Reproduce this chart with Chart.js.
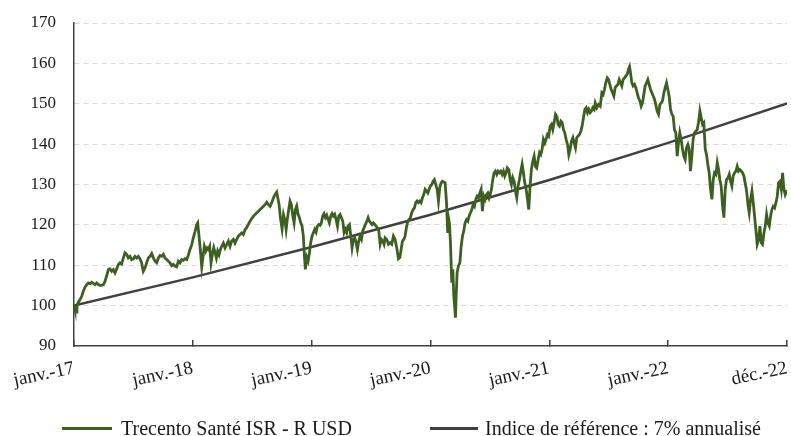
<!DOCTYPE html>
<html>
<head>
<meta charset="utf-8">
<script src="https://cdn.jsdelivr.net/npm/chart.js@4/dist/chart.umd.min.js"></script>
<style>
  html, body { margin: 0; padding: 0; background: #ffffff; }
  #wrap { width: 791px; height: 436px; position: relative; overflow: hidden; }
  #c { position: absolute; left: 0; top: 0; }
  .lg-line { position: absolute; height: 3px; }
  .lg-text { position: absolute; font-family: 'Liberation Serif', 'Times New Roman', serif; font-size: 20px; line-height: 22px; color: #1a1a1a; white-space: nowrap; }
</style>
</head>
<body>
<div id="wrap">
  <canvas id="c" width="791" height="436"></canvas>
  <div id="legend"></div>
</div>
<script>
// X positions are years elapsed since janv. 2017
const xTickValues = [0, 1, 2, 3, 4, 5, 6];
const xTickLabels = ['janv.-17', 'janv.-18', 'janv.-19', 'janv.-20', 'janv.-21', 'janv.-22', 'déc.-22'];
const yTickMin = 90;
const yTickMax = 170;
const yTickStep = 10;

const seriesNames = ['Trecento Santé ISR - R USD', 'Indice de référence : 7% annualisé'];

// Reference index: 7% annualised, yearly readings
const refYears = [0, 1, 2, 3, 4, 5, 6];
const refValues = [100, 107, 114.5, 122.5, 131.1, 140.3, 150.1];

// Fund: [years since janv.-17, value]
const fundPoints = [
[0.000,100.0],[0.008,99.0],[0.017,98.4],[0.025,100.0],[0.036,100.8],[0.051,101.5],[0.065,102.3],[0.079,103.6],[0.093,104.6],[0.107,105.2],
[0.121,105.6],[0.135,105.4],[0.149,105.8],[0.163,105.5],[0.177,105.2],[0.191,105.6],[0.205,105.2],[0.219,105.0],[0.233,105.0],[0.247,105.2],
[0.261,106.0],[0.275,107.4],[0.289,108.9],[0.303,109.1],[0.317,108.5],[0.331,108.9],[0.345,108.1],[0.359,109.1],[0.373,110.2],[0.387,110.6],
[0.401,110.3],[0.415,111.8],[0.429,113.1],[0.443,112.7],[0.457,111.8],[0.471,112.2],[0.485,111.4],[0.499,111.6],[0.513,112.2],[0.527,111.8],
[0.541,112.2],[0.555,111.6],[0.569,110.6],[0.583,108.5],[0.597,109.3],[0.611,110.6],[0.625,111.8],[0.640,112.2],[0.654,112.9],[0.668,111.8],
[0.682,111.0],[0.696,110.6],[0.710,111.8],[0.724,112.4],[0.738,112.2],[0.752,112.7],[0.766,111.8],[0.780,111.4],[0.794,111.0],[0.808,110.6],
[0.822,109.9],[0.836,110.2],[0.850,109.8],[0.864,109.6],[0.878,111.0],[0.892,110.6],[0.906,111.4],[0.920,111.2],[0.934,111.6],[0.949,111.4],
[0.963,112.6],[0.976,113.9],[0.991,115.1],[1.004,116.8],[1.019,118.4],[1.033,120.1],[1.041,120.5],[1.052,117.2],[1.063,113.9],[1.075,109.6],
[1.086,112.2],[1.097,114.7],[1.109,113.5],[1.120,114.3],[1.131,113.9],[1.142,114.7],[1.153,110.6],[1.164,112.6],[1.176,114.3],[1.187,113.1],
[1.198,111.8],[1.209,113.5],[1.221,112.6],[1.232,113.9],[1.243,114.7],[1.257,115.5],[1.271,114.3],[1.285,115.1],[1.299,116.0],[1.313,114.7],
[1.327,116.0],[1.341,116.4],[1.355,115.5],[1.369,116.4],[1.383,117.2],[1.397,117.6],[1.411,118.0],[1.425,117.6],[1.439,118.8],[1.453,119.3],
[1.467,120.1],[1.481,120.9],[1.495,121.5],[1.509,122.1],[1.524,122.6],[1.538,123.0],[1.552,123.4],[1.566,123.8],[1.580,124.2],[1.594,124.6],
[1.608,125.0],[1.622,125.6],[1.636,125.0],[1.650,124.6],[1.664,125.5],[1.678,126.7],[1.692,127.5],[1.706,128.1],[1.715,126.7],[1.726,125.0],
[1.738,121.5],[1.751,119.0],[1.763,122.5],[1.776,121.0],[1.785,118.9],[1.795,121.4],[1.807,123.8],[1.818,125.9],[1.829,125.1],[1.841,122.2],
[1.852,120.5],[1.863,123.8],[1.874,124.7],[1.886,122.6],[1.897,121.8],[1.908,120.5],[1.919,119.7],[1.930,117.2],[1.939,112.3],[1.947,109.0],
[1.959,111.9],[1.970,111.0],[1.981,113.1],[1.992,115.6],[2.003,117.2],[2.015,118.1],[2.026,118.9],[2.037,118.2],[2.048,119.7],[2.060,120.1],
[2.071,119.9],[2.082,120.5],[2.093,122.2],[2.104,122.8],[2.116,121.8],[2.127,122.4],[2.138,121.4],[2.149,120.5],[2.161,122.2],[2.172,122.8],
[2.183,122.2],[2.194,122.6],[2.205,121.4],[2.217,119.7],[2.228,122.2],[2.239,122.6],[2.250,121.8],[2.262,120.9],[2.273,118.1],[2.284,118.9],
[2.295,118.1],[2.306,119.7],[2.318,120.1],[2.329,117.2],[2.340,114.3],[2.351,116.4],[2.363,116.8],[2.374,115.6],[2.385,113.9],[2.396,116.0],
[2.407,117.2],[2.419,116.4],[2.430,118.5],[2.441,119.3],[2.452,120.1],[2.464,120.9],[2.475,121.8],[2.486,120.9],[2.497,120.5],[2.508,120.1],
[2.519,120.5],[2.531,120.1],[2.542,119.7],[2.553,119.3],[2.565,118.5],[2.576,115.2],[2.587,116.4],[2.598,116.0],[2.609,115.2],[2.618,116.8],
[2.632,116.4],[2.646,115.2],[2.660,115.6],[2.674,115.2],[2.688,117.2],[2.702,116.4],[2.716,114.3],[2.730,111.6],[2.742,111.9],[2.753,113.9],
[2.764,116.0],[2.775,116.4],[2.786,117.2],[2.797,119.3],[2.809,120.9],[2.820,121.3],[2.831,121.8],[2.842,123.0],[2.854,123.8],[2.865,124.2],
[2.876,125.5],[2.887,125.9],[2.898,125.5],[2.910,125.9],[2.921,125.5],[2.932,126.7],[2.943,127.5],[2.955,128.8],[2.966,128.4],[2.977,127.9],
[2.988,128.8],[2.999,129.6],[3.011,130.0],[3.022,130.8],[3.033,131.2],[3.044,130.0],[3.056,128.8],[3.067,125.9],[3.078,129.2],[3.089,130.4],
[3.100,130.8],[3.112,130.6],[3.123,130.4],[3.134,125.9],[3.145,118.0],[3.151,121.8],[3.159,120.5],[3.168,115.6],[3.179,105.7],[3.188,109.0],
[3.196,102.4],[3.205,99.1],[3.210,97.0],[3.215,101.6],[3.224,108.2],[3.235,109.8],[3.247,110.6],[3.258,114.7],[3.269,117.2],[3.280,118.5],
[3.291,120.5],[3.303,121.3],[3.314,120.9],[3.325,122.2],[3.336,123.0],[3.348,123.8],[3.359,125.1],[3.370,124.6],[3.381,126.3],[3.392,127.1],
[3.404,126.7],[3.415,127.9],[3.426,128.8],[3.437,123.4],[3.449,127.1],[3.460,126.3],[3.471,127.5],[3.482,127.9],[3.493,126.7],[3.502,127.5],
[3.513,128.8],[3.524,131.2],[3.535,132.9],[3.546,133.3],[3.558,132.5],[3.569,133.3],[3.580,132.9],[3.591,133.3],[3.603,132.5],[3.614,133.3],
[3.625,132.1],[3.636,132.9],[3.647,134.1],[3.659,133.7],[3.670,131.2],[3.681,130.0],[3.692,131.7],[3.704,130.8],[3.715,128.3],[3.726,126.7],
[3.737,129.6],[3.748,131.2],[3.760,133.3],[3.771,135.0],[3.782,132.9],[3.793,130.4],[3.805,128.8],[3.816,126.3],[3.827,123.8],[3.838,129.6],
[3.849,133.7],[3.861,135.8],[3.872,137.0],[3.883,134.5],[3.894,134.1],[3.906,136.2],[3.917,137.9],[3.928,137.4],[3.939,138.7],[3.950,141.2],
[3.962,140.3],[3.973,141.2],[3.984,142.4],[3.995,142.0],[4.007,144.5],[4.018,144.9],[4.029,143.6],[4.040,145.3],[4.052,147.4],[4.063,146.9],
[4.074,144.9],[4.085,144.5],[4.097,145.7],[4.108,145.3],[4.119,143.6],[4.130,142.8],[4.141,141.2],[4.153,139.9],[4.164,137.4],[4.175,138.7],
[4.186,140.7],[4.198,141.6],[4.209,140.3],[4.220,139.1],[4.231,141.6],[4.242,142.0],[4.254,142.4],[4.265,143.2],[4.276,144.5],[4.287,146.5],
[4.299,148.6],[4.310,149.0],[4.321,147.8],[4.332,148.6],[4.343,147.8],[4.355,148.2],[4.366,149.0],[4.377,148.6],[4.386,150.2],[4.400,149.0],
[4.414,149.8],[4.428,149.4],[4.442,152.7],[4.453,152.3],[4.464,153.6],[4.475,155.2],[4.487,156.4],[4.498,156.0],[4.509,154.8],[4.520,153.6],
[4.532,152.7],[4.543,151.9],[4.554,154.0],[4.565,154.4],[4.577,154.8],[4.588,156.0],[4.599,155.2],[4.610,154.4],[4.621,156.0],[4.633,156.4],
[4.644,156.9],[4.655,157.3],[4.666,158.5],[4.675,159.2],[4.683,157.7],[4.694,155.2],[4.705,154.4],[4.717,154.8],[4.728,154.0],[4.739,152.7],
[4.750,151.5],[4.762,150.7],[4.773,149.4],[4.784,150.2],[4.795,152.3],[4.806,154.4],[4.818,155.2],[4.829,156.0],[4.840,154.8],[4.851,153.6],
[4.863,152.7],[4.874,151.9],[4.885,151.1],[4.896,149.8],[4.907,148.2],[4.919,147.4],[4.930,149.8],[4.941,150.2],[4.952,150.7],[4.964,152.7],
[4.975,154.0],[4.986,155.2],[4.997,153.6],[5.008,151.9],[5.020,148.6],[5.031,147.4],[5.042,146.9],[5.053,143.6],[5.065,142.8],[5.076,137.0],
[5.087,140.3],[5.098,142.8],[5.109,141.2],[5.121,138.7],[5.132,137.0],[5.143,136.2],[5.154,139.1],[5.166,139.9],[5.177,138.7],[5.188,133.3],
[5.199,137.0],[5.210,141.2],[5.222,142.8],[5.233,143.2],[5.244,143.6],[5.255,145.3],[5.267,148.2],[5.278,146.5],[5.289,144.9],[5.300,145.3],
[5.312,138.7],[5.323,137.4],[5.334,134.9],[5.345,132.9],[5.357,128.8],[5.368,126.3],[5.379,131.2],[5.390,132.9],[5.402,132.5],[5.413,135.4],
[5.424,133.7],[5.435,131.2],[5.446,129.6],[5.458,124.6],[5.469,121.8],[5.480,128.8],[5.491,131.2],[5.503,131.6],[5.514,132.5],[5.525,130.8],
[5.536,129.6],[5.547,132.1],[5.559,132.9],[5.570,133.3],[5.581,134.5],[5.592,133.3],[5.604,133.7],[5.615,133.3],[5.626,132.9],[5.637,132.1],
[5.648,130.4],[5.660,128.4],[5.671,125.1],[5.682,123.0],[5.693,126.3],[5.705,128.4],[5.716,125.5],[5.727,122.2],[5.738,118.9],[5.749,115.2],
[5.761,116.4],[5.772,119.7],[5.783,115.6],[5.794,115.2],[5.806,118.0],[5.817,119.7],[5.828,122.6],[5.839,120.5],[5.851,119.7],[5.862,122.2],
[5.873,123.8],[5.884,124.6],[5.896,124.2],[5.907,125.5],[5.918,127.1],[5.929,130.4],[5.941,130.8],[5.952,128.8],[5.963,132.9],[5.974,128.8],
[5.985,127.5],[6.000,128.6]
];

const seriesColors = ['#3d5f22', '#404040'];
const axisColor = '#404040';
const textColor = '#1a1a1a';
const fontFamily = "'Liberation Serif', 'Times New Roman', serif";

// HTML legend (real text)
const legendLayout = [
  { lineLeft: 62, lineWidth: 50, textLeft: 121 },
  { lineLeft: 430, lineWidth: 48, textLeft: 485 }
];
const legendEl = document.getElementById('legend');
seriesNames.forEach((name, i) => {
  const ln = document.createElement('div');
  ln.className = 'lg-line';
  ln.style.left = legendLayout[i].lineLeft + 'px';
  ln.style.top = '427px';
  ln.style.width = legendLayout[i].lineWidth + 'px';
  ln.style.background = seriesColors[i];
  legendEl.appendChild(ln);
  const tx = document.createElement('div');
  tx.className = 'lg-text';
  tx.style.left = legendLayout[i].textLeft + 'px';
  tx.style.top = '417px';
  tx.textContent = name;
  legendEl.appendChild(tx);
});

const ctx = document.getElementById('c').getContext('2d');
new Chart(ctx, {
  type: 'line',
  data: {
    datasets: [
      {
        label: seriesNames[0],
        data: fundPoints.map(p => ({ x: p[0], y: p[1] })),
        borderColor: seriesColors[0],
        backgroundColor: seriesColors[0],
        borderWidth: 2.8,
        pointRadius: 0,
        tension: 0
      },
      {
        label: seriesNames[1],
        data: refYears.map((t, i) => ({ x: t, y: refValues[i] })),
        borderColor: seriesColors[1],
        backgroundColor: seriesColors[1],
        borderWidth: 2.5,
        pointRadius: 0,
        tension: 0
      }
    ]
  },
  options: {
    responsive: false,
    animation: false,
    events: [],
    layout: { padding: { left: 0, right: 4, top: 23, bottom: 30 } },
    plugins: {
      tooltip: { enabled: false },
      legend: { display: false }
    },
    scales: {
      x: {
        type: 'linear',
        min: xTickValues[0],
        max: xTickValues[xTickValues.length - 1],
        afterBuildTicks: (s) => { s.ticks = xTickValues.map(v => ({ value: v })); },
        afterFit: (s) => { s.height = 60; s.paddingLeft = 0; s.paddingRight = 0; },
        ticks: {
          callback: (v, i) => xTickLabels[i],
          autoSkip: false,
          minRotation: 12,
          maxRotation: 12,
          color: textColor,
          font: { family: fontFamily, size: 19 },
          padding: 17
        },
        grid: {
          drawOnChartArea: false,
          drawTicks: true,
          tickLength: -6,
          color: axisColor,
          lineWidth: 1.5
        },
        border: { display: true, color: axisColor, width: 1.5 }
      },
      y: {
        min: yTickMin,
        max: yTickMax,
        afterFit: (s) => { s.width = 74; s.paddingTop = 0; s.paddingBottom = 0; },
        ticks: {
          stepSize: yTickStep,
          color: textColor,
          font: { family: fontFamily, size: 17 },
          padding: 18
        },
        grid: {
          drawTicks: false,
          color: (c) => (c.tick && c.tick.value === yTickMin) ? 'rgba(0,0,0,0)' : '#d9d9d9',
          lineWidth: 1
        },
        border: { display: true, color: axisColor, width: 1.5, dash: [5, 4] }
      }
    }
  }
});
</script>
</body>
</html>
